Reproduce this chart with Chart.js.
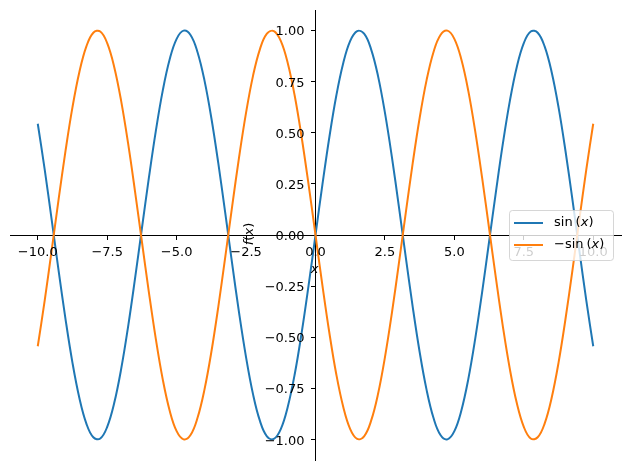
<!DOCTYPE html>
<html>
<head>
<meta charset="utf-8">
<script src="https://cdn.jsdelivr.net/npm/chart.js@4"></script>
<style>
  html, body { margin: 0; padding: 0; background: #fff; }
</style>
</head>
<body>
<canvas id="plot" width="630" height="470"></canvas>
<script>
// sample points
const xs = [
  -10, -9.75, -9.5, -9.25, -9, -8.75, -8.5, -8.25, -8, -7.75,
  -7.5, -7.25, -7, -6.75, -6.5, -6.25, -6, -5.75, -5.5, -5.25,
  -5, -4.75, -4.5, -4.25, -4, -3.75, -3.5, -3.25, -3, -2.75,
  -2.5, -2.25, -2, -1.75, -1.5, -1.25, -1, -0.75, -0.5, -0.25,
  0, 0.25, 0.5, 0.75, 1, 1.25, 1.5, 1.75, 2, 2.25,
  2.5, 2.75, 3, 3.25, 3.5, 3.75, 4, 4.25, 4.5, 4.75,
  5, 5.25, 5.5, 5.75, 6, 6.25, 6.5, 6.75, 7, 7.25,
  7.5, 7.75, 8, 8.25, 8.5, 8.75, 9, 9.25, 9.5, 9.75, 10
];
const sinVals = [
  0.544, 0.320, 0.075, -0.174, -0.412, -0.625, -0.798, -0.922, -0.989, -0.995,
  -0.938, -0.823, -0.657, -0.450, -0.215, 0.033, 0.279, 0.508, 0.706, 0.859,
  0.959, 0.999, 0.978, 0.895, 0.757, 0.572, 0.351, 0.108, -0.141, -0.382,
  -0.598, -0.778, -0.909, -0.984, -0.997, -0.949, -0.841, -0.682, -0.479, -0.247,
  0, 0.247, 0.479, 0.682, 0.841, 0.949, 0.997, 0.984, 0.909, 0.778,
  0.598, 0.382, 0.141, -0.108, -0.351, -0.572, -0.757, -0.895, -0.978, -0.999,
  -0.959, -0.859, -0.706, -0.508, -0.279, -0.033, 0.215, 0.450, 0.657, 0.823,
  0.938, 0.995, 0.989, 0.922, 0.798, 0.625, 0.412, 0.174, -0.075, -0.320, -0.544
];
const negSinVals = [
  -0.544, -0.320, -0.075, 0.174, 0.412, 0.625, 0.798, 0.922, 0.989, 0.995,
  0.938, 0.823, 0.657, 0.450, 0.215, -0.033, -0.279, -0.508, -0.706, -0.859,
  -0.959, -0.999, -0.978, -0.895, -0.757, -0.572, -0.351, -0.108, 0.141, 0.382,
  0.598, 0.778, 0.909, 0.984, 0.997, 0.949, 0.841, 0.682, 0.479, 0.247,
  0, -0.247, -0.479, -0.682, -0.841, -0.949, -0.997, -0.984, -0.909, -0.778,
  -0.598, -0.382, -0.141, 0.108, 0.351, 0.572, 0.757, 0.895, 0.978, 0.999,
  0.959, 0.859, 0.706, 0.508, 0.279, 0.033, -0.215, -0.450, -0.657, -0.823,
  -0.938, -0.995, -0.989, -0.922, -0.798, -0.625, -0.412, -0.174, 0.075, 0.320, 0.544
];

const seriesNames = ['sin', '\u2212sin'];
const seriesColors = ['#1f77b4', '#ff7f0e'];

const xTicks = [-10, -7.5, -5, -2.5, 0, 2.5, 5, 7.5, 10];
const xTickLabels = ['\u221210.0', '\u22127.5', '\u22125.0', '\u22122.5', '0.0', '2.5', '5.0', '7.5', '10.0'];
const yTicks = [-1, -0.75, -0.5, -0.25, 0, 0.25, 0.5, 0.75, 1];
const yTickLabels = ['\u22121.00', '\u22120.75', '\u22120.50', '\u22120.25', '0.00', '0.25', '0.50', '0.75', '1.00'];

const FONT = '"DejaVu Sans", sans-serif';

function toPoints(vals) {
  return vals.map((v, i) => ({ x: xs[i], y: v }));
}

// draw "name (x)" with an italic x, like mathtext
function mathLabel(ctx, name, x, y) {
  ctx.font = '13px ' + FONT;
  ctx.fillText(name, x, y);
  x += ctx.measureText(name).width + 3;
  ctx.fillText('(', x, y);
  x += ctx.measureText('(').width;
  ctx.font = 'italic 13px ' + FONT;
  ctx.fillText('x', x, y);
  x += ctx.measureText('x').width;
  ctx.font = '13px ' + FONT;
  ctx.fillText(')', x, y);
}

const extras = {
  id: 'extras',
  afterDraw(chart) {
    const ctx = chart.ctx;
    const sx = chart.scales.x, sy = chart.scales.y;
    const ox = sx.getPixelForValue(0), oy = sy.getPixelForValue(0);
    ctx.save();
    ctx.fillStyle = '#000';

    // tick labels, placed like matplotlib's centred spines
    ctx.font = '13px ' + FONT;
    ctx.textBaseline = 'alphabetic';
    ctx.textAlign = 'center';
    xTicks.forEach((v, i) => {
      ctx.fillText(xTickLabels[i], sx.getPixelForValue(v), oy + 21);
    });
    ctx.textAlign = 'right';
    yTicks.forEach((v, i) => {
      ctx.fillText(yTickLabels[i], ox - 11, sy.getPixelForValue(v) + 5);
    });

    ctx.textBaseline = 'middle';
    // x label
    ctx.font = 'italic 13px ' + FONT;
    ctx.textAlign = 'center';
    ctx.fillText('x', ox - 1, oy + 35);

    // f(x) label, rotated
    ctx.save();
    ctx.translate(250, 234);
    ctx.rotate(-Math.PI / 2);
    ctx.textAlign = 'left';
    const parts = [['f', 'italic'], ['(', ''], ['x', 'italic'], [')', '']];
    let w = 0;
    parts.forEach(p => { ctx.font = (p[1] ? p[1] + ' ' : '') + '13px ' + FONT; w += ctx.measureText(p[0]).width; });
    let px = -w / 2;
    parts.forEach(p => {
      ctx.font = (p[1] ? p[1] + ' ' : '') + '13px ' + FONT;
      ctx.fillText(p[0], px, 0);
      px += ctx.measureText(p[0]).width;
    });
    ctx.restore();

    // legend box
    const bx = 509, by = 210, bw = 104, bh = 50, r = 3;
    ctx.beginPath();
    ctx.roundRect(bx + 0.5, by + 0.5, bw, bh, r);
    ctx.fillStyle = 'rgba(255,255,255,0.8)';
    ctx.fill();
    ctx.strokeStyle = 'rgba(204,204,204,0.8)';
    ctx.lineWidth = 1;
    ctx.stroke();

    const rows = [223, 245];
    seriesNames.forEach((name, i) => {
      ctx.beginPath();
      ctx.moveTo(514, rows[i]);
      ctx.lineTo(543, rows[i]);
      ctx.strokeStyle = seriesColors[i];
      ctx.lineWidth = 2;
      ctx.stroke();
      ctx.fillStyle = '#000';
      ctx.textAlign = 'left';
      mathLabel(ctx, name, 554, rows[i]);
    });
    ctx.restore();
  }
};

new Chart(document.getElementById('plot'), {
  type: 'line',
  data: {
    datasets: [
      {
        label: seriesNames[0],
        data: toPoints(sinVals),
        borderColor: seriesColors[0],
        borderWidth: 2,
        pointRadius: 0,
        tension: 0.4,
        fill: false,
        order: 1
      },
      {
        label: seriesNames[1],
        data: toPoints(negSinVals),
        borderColor: seriesColors[1],
        borderWidth: 2,
        pointRadius: 0,
        tension: 0.4,
        fill: false,
        order: 0
      }
    ]
  },
  options: {
    responsive: false,
    animation: false,
    layout: { padding: { left: 10, right: 9, top: 10, bottom: 10 } },
    plugins: {
      legend: { display: false },
      tooltip: { enabled: false }
    },
    scales: {
      x: {
        type: 'linear',
        min: -11,
        max: 11,
        position: { y: 0 },
        afterBuildTicks: s => { s.ticks = xTicks.map(v => ({ value: v })); },
        ticks: { display: false },
        grid: { drawOnChartArea: false, drawTicks: true, tickLength: 4, color: '#000' },
        border: { display: true, color: '#000', width: 1 }
      },
      y: {
        type: 'linear',
        min: -1.1,
        max: 1.1,
        position: { x: 0 },
        afterBuildTicks: s => { s.ticks = yTicks.map(v => ({ value: v })); },
        ticks: { display: false },
        grid: { drawOnChartArea: false, drawTicks: true, tickLength: 4, color: '#000' },
        border: { display: true, color: '#000', width: 1 }
      }
    }
  },
  plugins: [extras]
});
</script>
</body>
</html>
